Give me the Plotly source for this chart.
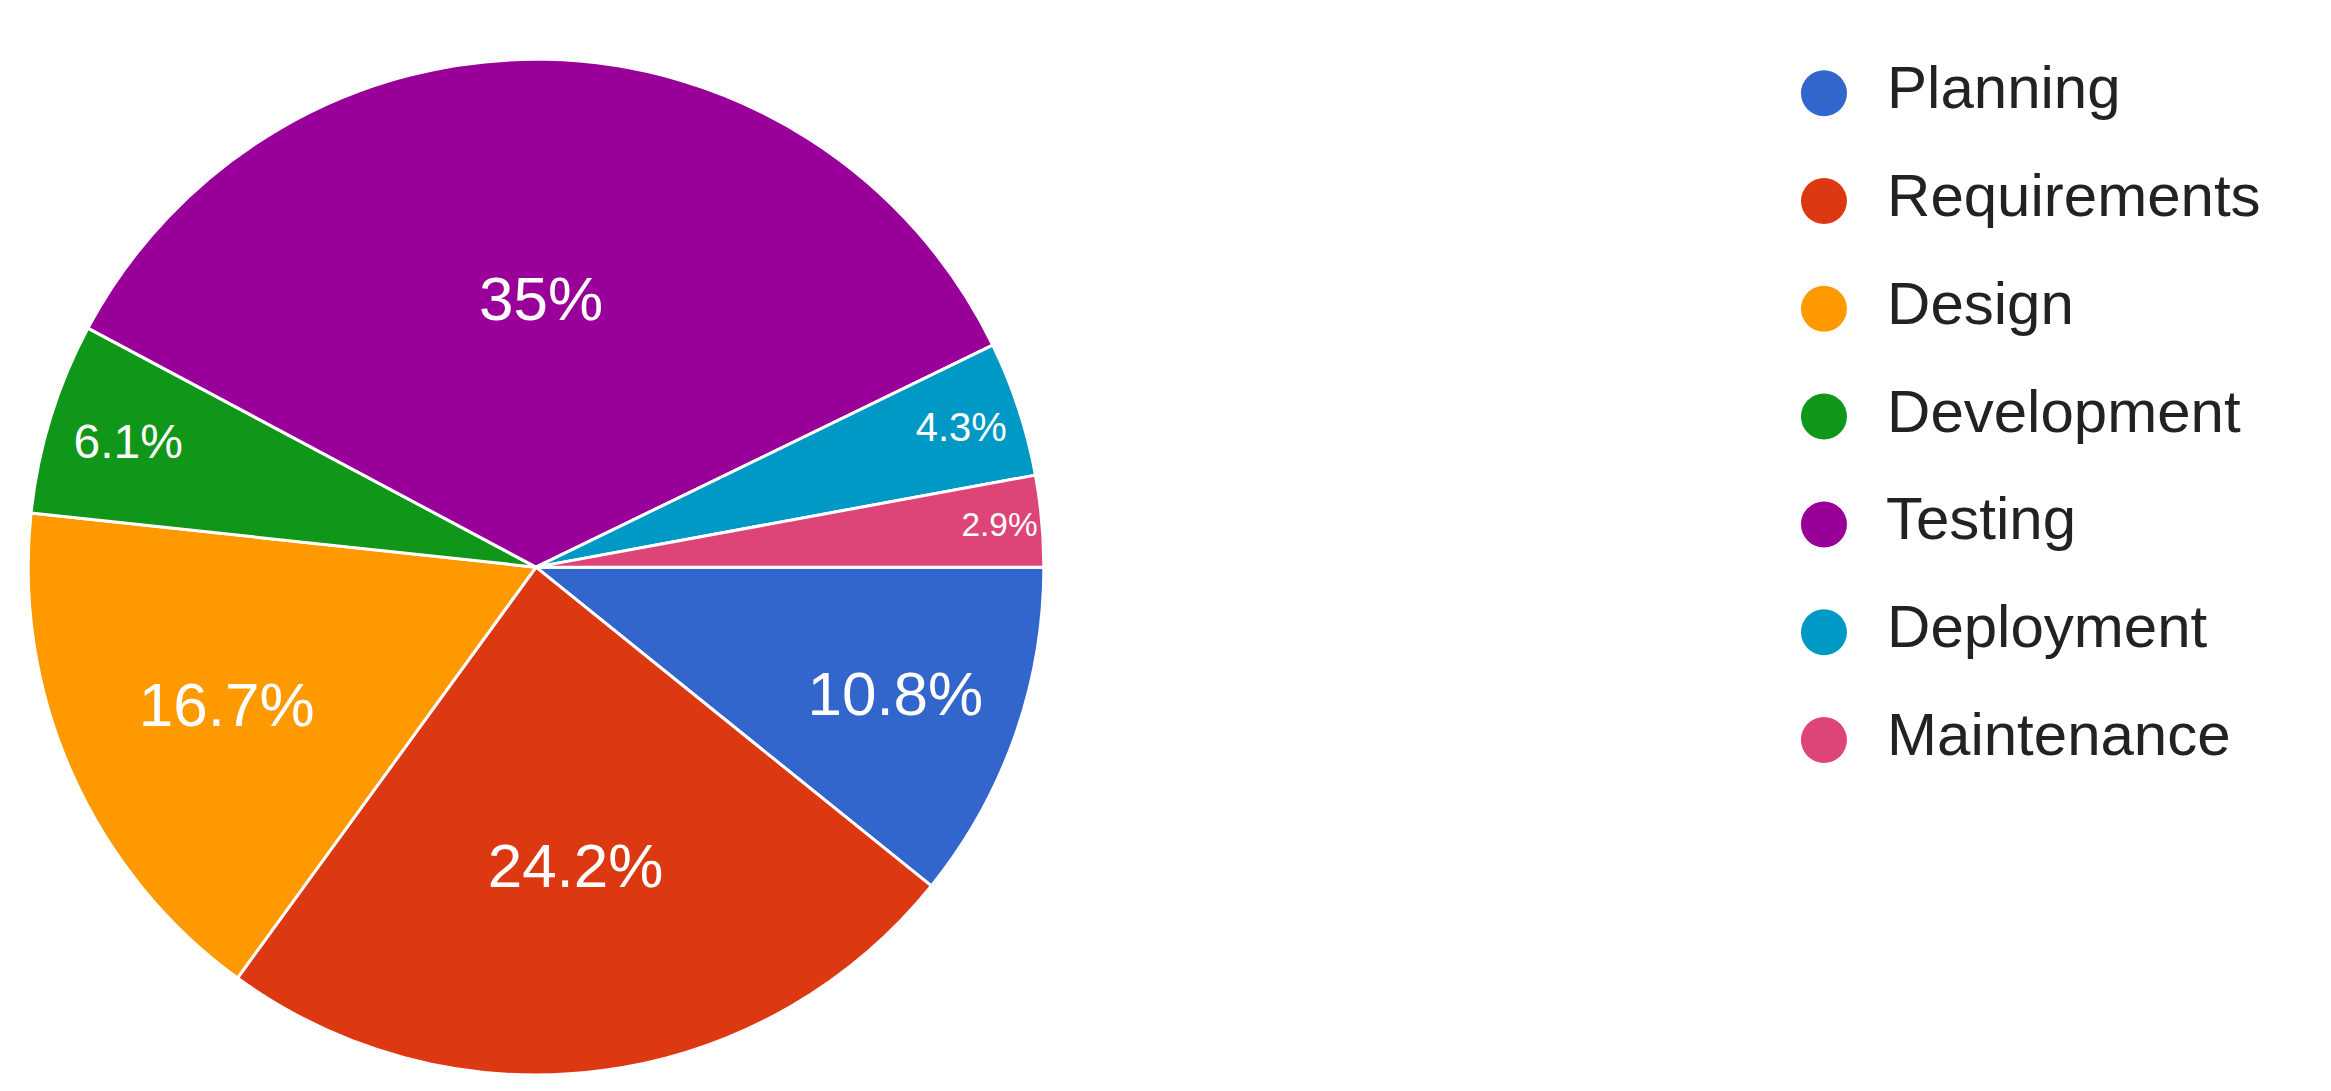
import plotly.graph_objects as go

phases = ["Planning", "Requirements", "Design", "Development", "Testing", "Deployment", "Maintenance"]
shares = [10.8, 24.2, 16.7, 6.1, 35, 4.3, 2.9]
colors = ["#3366cc", "#dc3912", "#ff9900", "#109618", "#990099", "#0099c6", "#dd4477"]
label_sizes = [62, 62, 62, 48, 62, 40, 38]

fig = go.Figure()

fig.add_trace(go.Pie(
    labels=phases, values=shares, sort=False, direction="clockwise", rotation=90,
    marker=dict(colors=colors, line=dict(color="white", width=3)),
    texttemplate="%{value}%", textposition="inside", insidetextorientation="horizontal",
    textfont=dict(family="Arial, Liberation Sans", size=label_sizes, color="white"),
    showlegend=False, hoverinfo="label+percent",
    domain=dict(x=[20 / 2331, 1036 / 2331], y=[0.022, 0.953]),
))

# legend drawn as a scatter column so the swatches can be circles
fig.add_trace(go.Scatter(
    x=[0] * len(phases), y=list(range(len(phases))),
    mode="markers+text", text=["  " + p for p in phases], textposition="middle right",
    marker=dict(size=46, color=colors, symbol="circle"),
    textfont=dict(family="Arial, Liberation Sans", size=60, color="#222222"),
    showlegend=False, hoverinfo="skip", cliponaxis=False,
))

fig.update_layout(
    width=2331, height=1091, margin=dict(l=0, r=0, t=0, b=0),
    paper_bgcolor="white", plot_bgcolor="white",
    xaxis=dict(domain=[0.768, 1.0], range=[-0.05, 1], visible=False),
    yaxis=dict(range=[9.33, -0.79], visible=False),
)

fig.write_html("out.html")
